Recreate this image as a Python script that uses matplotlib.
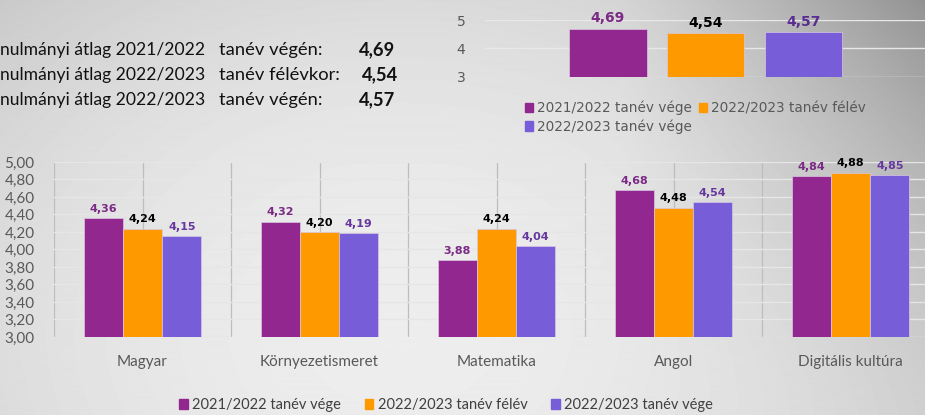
import numpy as np
import matplotlib.pyplot as plt
from matplotlib.patches import Patch

subjects = ['Magyar', 'Környezetismeret', 'Matematika', 'Angol', 'Digitális kultúra']
series_names = ['2021/2022 tanév vége', '2022/2023 tanév félév', '2022/2023 tanév vége']
v_2122_end = [4.36, 4.32, 3.88, 4.68, 4.84]
v_2223_half = [4.24, 4.20, 4.24, 4.48, 4.88]
v_2223_end = [4.15, 4.19, 4.04, 4.54, 4.85]
overall = [4.69, 4.54, 4.57]
overall_left = ['nulmányi átlag 2021/2022', 'nulmányi átlag 2022/2023', 'nulmányi átlag 2022/2023']
overall_right = ['tanév végén:', 'tanév félévkor:', 'tanév végén:']

colors = ['#92278F', '#FF9900', '#775DD8']
label_colors = ['#7B2A85', '#000000', '#66379E']
tick_gray = '#595959'

W, H = 925, 415
fig = plt.figure(figsize=(W / 100, H / 100), dpi=100)

# background gradient
bg = fig.add_axes([0, 0, 1, 1], zorder=-10)
yy, xx = np.mgrid[0:H, 0:W]
d2 = ((xx - 400) / 520.0) ** 2 + ((yy - 330) / 400.0) ** 2
v = 0.93 - 0.11 * d2 - 0.17 * np.clip((xx - 620) / 305.0, 0, 1) * (1 - yy / 415.0) ** 1.2
v = np.clip(v, 0.55, 0.95)
bg.imshow(v, cmap='gray', vmin=0, vmax=1, aspect='auto', extent=[0, W, H, 0])
bg.axis('off')


def fx(px):
    return px / W


def fy(py):
    return 1 - py / H


# left text block
for i in range(3):
    y = [50, 75, 100][i]
    fig.text(fx(0), fy(y), overall_left[i], fontsize=12.6, family='Lato', color='#111111',
             va='center', ha='left')
    fig.text(fx(219), fy(y), overall_right[i], fontsize=13.2, family='Lato', color='#111111',
             va='center', ha='left')
    fig.text(fx([359, 362, 359][i]), fy(y), f'{overall[i]:.2f}'.replace('.', ','), fontsize=13.2,
             family='Lato', weight='bold', color='#111111', va='center', ha='left')

# top small chart
ax2 = fig.add_axes([fx(485), fy(77), fx(927 - 485), (77 - 20) / H])
ax2.patch.set_alpha(0)
xs = np.arange(3)
ax2.bar(xs, [o - 3 for o in overall], bottom=3, width=0.79, color=colors,
        edgecolor='#d8c8e0', linewidth=0.5, zorder=3)
for xi, val, lc in zip(xs, overall, ['#7B2A85', '#000000', '#5A2D91']):
    ax2.text(xi, val + 0.12, f'{val:.2f}'.replace('.', ','), ha='center', va='bottom',
             fontsize=10, weight='bold', color=lc, clip_on=False)
ax2.set_xlim(-1.255, 3.26)
ax2.set_ylim(3, 5)
ax2.set_yticks([3, 4, 5])
ax2.set_xticks([])
ax2.tick_params(axis='y', length=0, pad=14, labelsize=10, labelcolor=tick_gray)
ax2.grid(axis='y', color='#e8e8e8', linewidth=1, zorder=0)
for s in ax2.spines.values():
    s.set_visible(False)

h = [Patch(color=c) for c in colors]
fig.legend([h[0], h[2], h[1]], [series_names[0], series_names[2], series_names[1]],
           ncol=2, loc='upper left', bbox_to_anchor=(fx(518), fy(94)), frameon=False,
           fontsize=9.8, labelcolor=tick_gray, handlelength=0.6, handleheight=0.7,
           handletextpad=0.3, columnspacing=0.5, labelspacing=0.3, borderpad=0)

# main chart
ax = fig.add_axes([fx(54), fy(337), fx(939 - 54), (337 - 162) / H])
ax.patch.set_alpha(0)
x = np.arange(len(subjects))
bw = 0.222
for k, vals in enumerate([v_2122_end, v_2223_half, v_2223_end]):
    pos = x + (k - 1) * bw
    ax.bar(pos, [vv - 3 for vv in vals], bottom=3, width=bw, color=colors[k],
           edgecolor='#d8c8e0', linewidth=0.5, zorder=3)
    for p, vv in zip(pos, vals):
        ax.text(p, vv + 0.05, f'{vv:.2f}'.replace('.', ','), ha='center', va='bottom',
                fontsize=8, weight='bold', color=label_colors[k], zorder=4)
ax.set_xlim(-0.5, 4.5)
ax.set_ylim(3, 5)
ax.set_yticks(np.arange(3, 5.01, 0.2))
ax.set_yticklabels([f'{t:.2f}'.replace('.', ',') for t in np.arange(3, 5.01, 0.2)],
                   family='Lato', fontsize=11, color=tick_gray)
ax.set_xticks(x)
ax.set_xticklabels(subjects, family='Lato', fontsize=11, color=tick_gray)
ax.tick_params(length=0)
ax.tick_params(axis='y', pad=14)
ax.tick_params(axis='x', pad=13)
ax.grid(axis='y', color='#e6e6e6', linewidth=1, zorder=0)
for xv in np.arange(-0.5, 4.51, 0.5):
    ax.axvline(xv, color='#bdbdbd', linewidth=0.9, zorder=1)
for s in ax.spines.values():
    s.set_visible(False)

fig.legend(h, series_names, ncol=3, loc='center', bbox_to_anchor=(fx(446), fy(405)),
           frameon=False, prop={'family': 'Lato', 'size': 10.5}, labelcolor='#404040',
           handlelength=0.6, handleheight=0.7, handletextpad=0.3, columnspacing=1.6)

fig.savefig('out.png', dpi=100)
